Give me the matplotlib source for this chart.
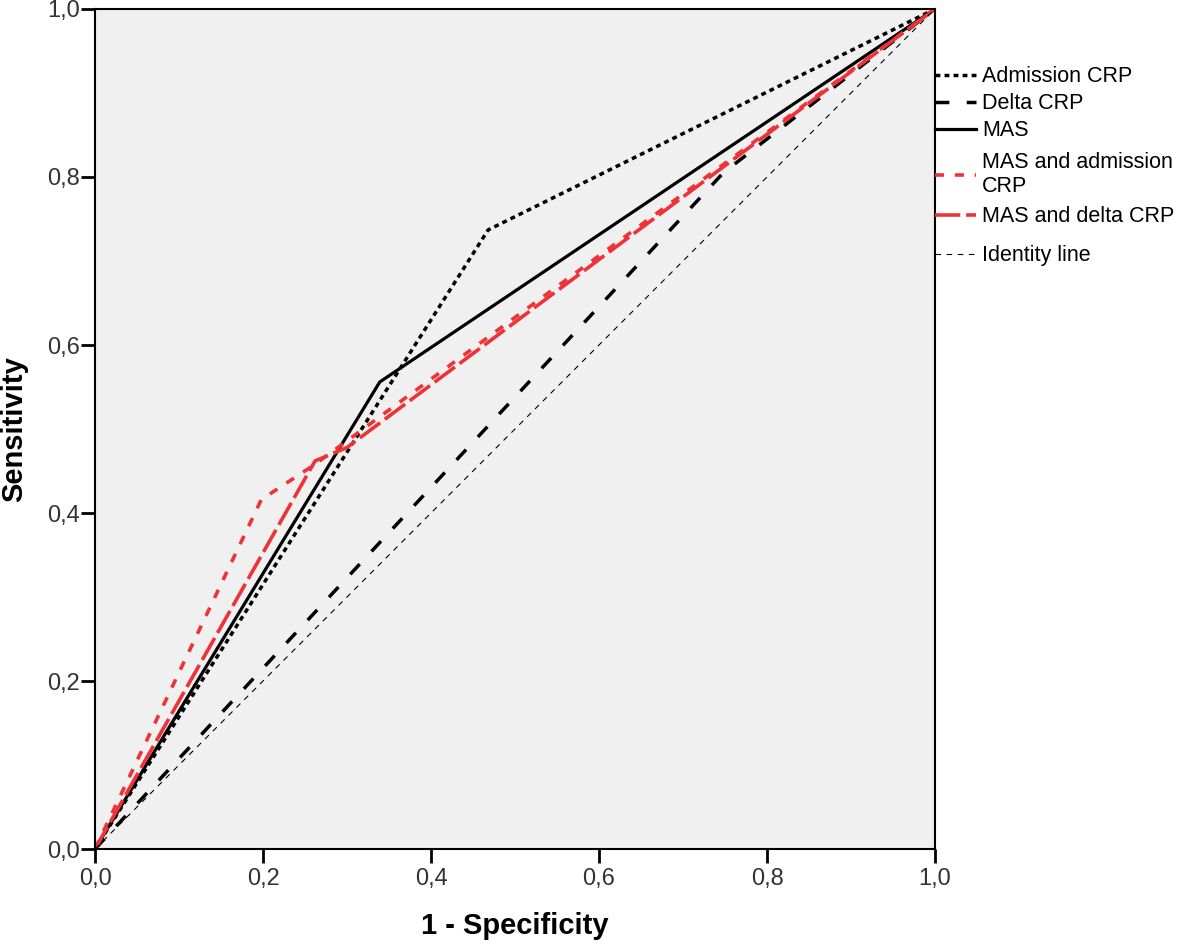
import matplotlib
matplotlib.use('Agg')
import matplotlib.pyplot as plt

plt.rcParams['font.family'] = ['Liberation Sans', 'DejaVu Sans']

# ROC curve points (1 - specificity, sensitivity)
adm_x = [0.0, 0.468, 1.0]
adm_y = [0.0, 0.737, 1.0]

delta_x = [0.0, 0.748, 1.0]
delta_y = [0.0, 0.805, 1.0]

mas_x = [0.0, 0.339, 1.0]
mas_y = [0.0, 0.556, 1.0]

mas_adm_x = [0.0, 0.198, 0.262, 1.0]
mas_adm_y = [0.0, 0.416, 0.458, 1.0]

mas_delta_x = [0.0, 0.262, 0.300, 1.0]
mas_delta_y = [0.0, 0.462, 0.478, 1.0]

ident_x = [0.0, 1.0]
ident_y = [0.0, 1.0]

ticks = [0.0, 0.2, 0.4, 0.6, 0.8, 1.0]
tick_labels = ['0,0', '0,2', '0,4', '0,6', '0,8', '1,0']

red = '#ee3338'

fig = plt.figure(figsize=(11.81, 9.47), dpi=100)
ax = fig.add_axes([95 / 1181, 1 - 849 / 947, 840 / 1181, 840 / 947])
ax.set_facecolor('#f0f0f0')

ax.plot(adm_x, adm_y, color='black', lw=2.5, dashes=(1.4, 1.2),
        label='Admission CRP')
ax.plot(delta_x, delta_y, color='black', lw=2.5, dashes=(4.0, 5.0),
        label='Delta CRP')
ax.plot(mas_x, mas_y, color='black', lw=2.3, label='MAS')
ax.plot(mas_adm_x, mas_adm_y, color=red, lw=2.6, dashes=(2.5, 3.0),
        label='MAS and admission\nCRP')
ax.plot(mas_delta_x, mas_delta_y, color=red, lw=2.6, dashes=(7.0, 1.6),
        label='MAS and delta CRP')
ax.plot(ident_x, ident_y, color='black', lw=0.8, dashes=(5, 5),
        label='Identity line')

ax.set_xlim(0, 1)
ax.set_ylim(0, 1)
ax.set_xticks(ticks)
ax.set_xticklabels(tick_labels)
ax.set_yticks(ticks)
ax.set_yticklabels(tick_labels)
ax.tick_params(direction='out', length=10, width=2, labelsize=17,
               labelcolor='#333333')
ax.tick_params(axis='x', pad=4)
ax.tick_params(axis='y', pad=1)
for s in ax.spines.values():
    s.set_linewidth(1.5)

ax.set_xlabel('1 - Specificity', fontsize=21, fontweight='bold')
ax.set_ylabel('Sensitivity', fontsize=21, fontweight='bold')
ax.xaxis.set_label_coords(0.5, -0.075)
ax.yaxis.set_label_coords(-0.079, 0.5)

# legend split in three groups to get the uneven spacing of the original
handles, labels = ax.get_legend_handles_labels()
leg_kw = dict(loc='upper left', borderaxespad=0, borderpad=0, frameon=False,
              fontsize=15.5, handlelength=1.9, handletextpad=0.3)
groups = [(slice(0, 3), 0.932, 0.28),
          (slice(3, 5), 0.8298, 0.42),
          (slice(5, 6), 0.719, 0.28)]
legs = []
for sl, top, sp in groups:
    legs.append(ax.legend(handles[sl], labels[sl], bbox_to_anchor=(1.0, top),
                          labelspacing=sp, **leg_kw))
for leg in legs[:-1]:
    ax.add_artist(leg)

fig.savefig('out.png', dpi=100)
